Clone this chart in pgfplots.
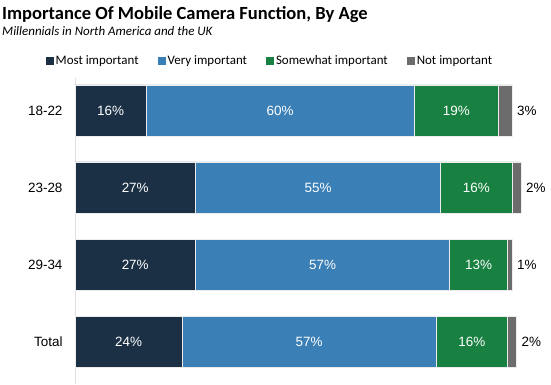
\documentclass[border=0pt]{standalone}
\usepackage{pgfplots}
\pgfplotsset{compat=1.18}
\usepackage{fontspec}
\setmainfont{Liberation Sans}
\newfontfamily\calfont{Carlito}
\definecolor{cMost}{RGB}{28,48,69}
\definecolor{cVery}{RGB}{58,127,181}
\definecolor{cSome}{RGB}{24,128,64}
\definecolor{cNot}{RGB}{108,108,108}
\pgfplotsset{commonax/.style={
  at={(75bp,0bp)}, anchor=south west, scale only axis,
  width=446bp, height=306bp,
  xmin=0, xmax=100, ymin=-0.55, ymax=3.42}}
\begin{document}
\begin{tikzpicture}[x=1bp,y=1bp]
\useasboundingbox (0,0) rectangle (551,384);
\node[anchor=base west, inner sep=0, font=\calfont\bfseries\fontsize{18.6}{22}\selectfont] at (2,365) {Importance Of Mobile Camera Function, By Age};
\node[anchor=base west, inner sep=0, font=\calfont\itshape\fontsize{13}{15}\selectfont] at (2,349) {Millennials in North America and the UK};
\begin{axis}[
  commonax,
  xbar stacked, bar width=51bp,
  ytick={0,1,2,3}, yticklabels={Total,29-34,23-28,18-22},
  axis x line=none, axis y line*=left,
  y axis line style={draw=gray!25, line width=0.8bp, -},
  major tick length=0pt,
  yticklabel style={font=\fontsize{13.5}{15}\selectfont, xshift=-9bp},
  nodes near coords={\pgfplotspointmeta\%},
  point meta=explicit symbolic,
  every node near coord/.append style={font=\fontsize{13.5}{16}\selectfont, text=white},
  legend columns=4,
  legend style={draw=none, fill=none, at={(0.437,1.056)}, anchor=center,
    font=\calfont\fontsize{13}{15}\selectfont,
    /tikz/every even column/.append style={column sep=17bp}},
  legend image code/.code={\fill[#1,draw=none] (0bp,-4bp) rectangle (8bp,4bp);},
]
\addplot[fill=cMost, draw=white!85!gray, line width=0.5bp]
  coordinates {(16,3) [16] (27,2) [27] (27,1) [27] (24,0) [24]};
\addlegendentry{Most important}
\addplot[fill=cVery, draw=white!85!gray, line width=0.5bp]
  coordinates {(60,3) [60] (55,2) [55] (57,1) [57] (57,0) [57]};
\addlegendentry{Very important}
\addplot[fill=cSome, draw=white!85!gray, line width=0.5bp]
  coordinates {(19,3) [19] (16,2) [16] (13,1) [13] (16,0) [16]};
\addlegendentry{Somewhat important}
\addplot[fill=cNot, draw=white!85!gray, line width=0.5bp, nodes near coords={}]
  coordinates {(3,3) [3] (2,2) [2] (1,1) [1] (2,0) [2]};
\addlegendentry{Not important}
\end{axis}
\begin{axis}[commonax, hide axis]
\addplot[only marks, mark=none, nodes near coords={\pgfplotspointmeta\%},
  point meta=explicit symbolic,
  every node near coord/.style={anchor=west, xshift=1.5bp, text=black, font=\fontsize{13.5}{16}\selectfont}]
  coordinates {(98,3) [3] (100,2) [2] (98,1) [1] (99,0) [2]};
\end{axis}
\end{tikzpicture}
\end{document}
